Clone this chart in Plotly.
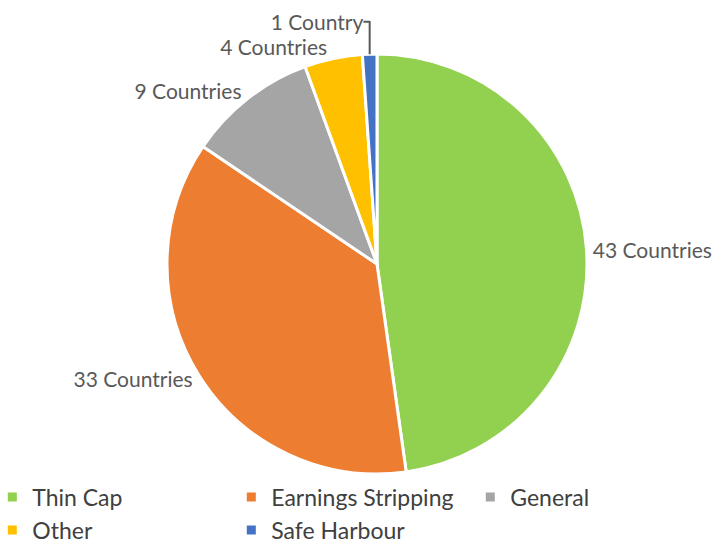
import plotly.graph_objects as go

categories = ["Thin Cap", "Earnings Stripping", "General", "Other", "Safe Harbour"]
values = [43, 33, 9, 4, 1]
text_labels = ["43 Countries", "33 Countries", "9 Countries", "4 Countries", "1 Country"]
colors = ["#92D050", "#ED7D31", "#A5A5A5", "#FFC000", "#4472C4"]

cx, cy, r = 377, 264, 210

fig = go.Figure(go.Pie(
    labels=categories,
    values=values,
    text=text_labels,
    textinfo="text",
    textposition="outside",
    sort=False,
    direction="clockwise",
    rotation=0,
    marker=dict(colors=colors, line=dict(color="white", width=3)),
    outsidetextfont=dict(size=21, color="#595959", family="Lato"),
    domain=dict(x=[(cx - r) / 713, (cx + r) / 713], y=[1 - (cy + r) / 545, 1 - (cy - r) / 545]),
    hoverinfo="label+value",
))

fig.update_layout(
    width=713, height=545,
    margin=dict(l=0, r=0, t=0, b=0, autoexpand=False),
    paper_bgcolor="white",
    plot_bgcolor="white",
    font=dict(family="Lato", color="#404040"),
    showlegend=True,
    legend=dict(
        orientation="h",
        x=-0.0108, xanchor="left",
        y=-0.012, yanchor="bottom",
        entrywidth=194,
        entrywidthmode="pixels",
        bgcolor="rgba(0,0,0,0)",
        font=dict(size=23, color="#404040", family="Lato"),
        traceorder="normal",
        tracegroupgap=0,
    ),
)

fig.write_html(
    "out.html",
    config={"displayModeBar": False},
    post_script="document.body.style.margin='0';document.body.style.padding='0';",
)
